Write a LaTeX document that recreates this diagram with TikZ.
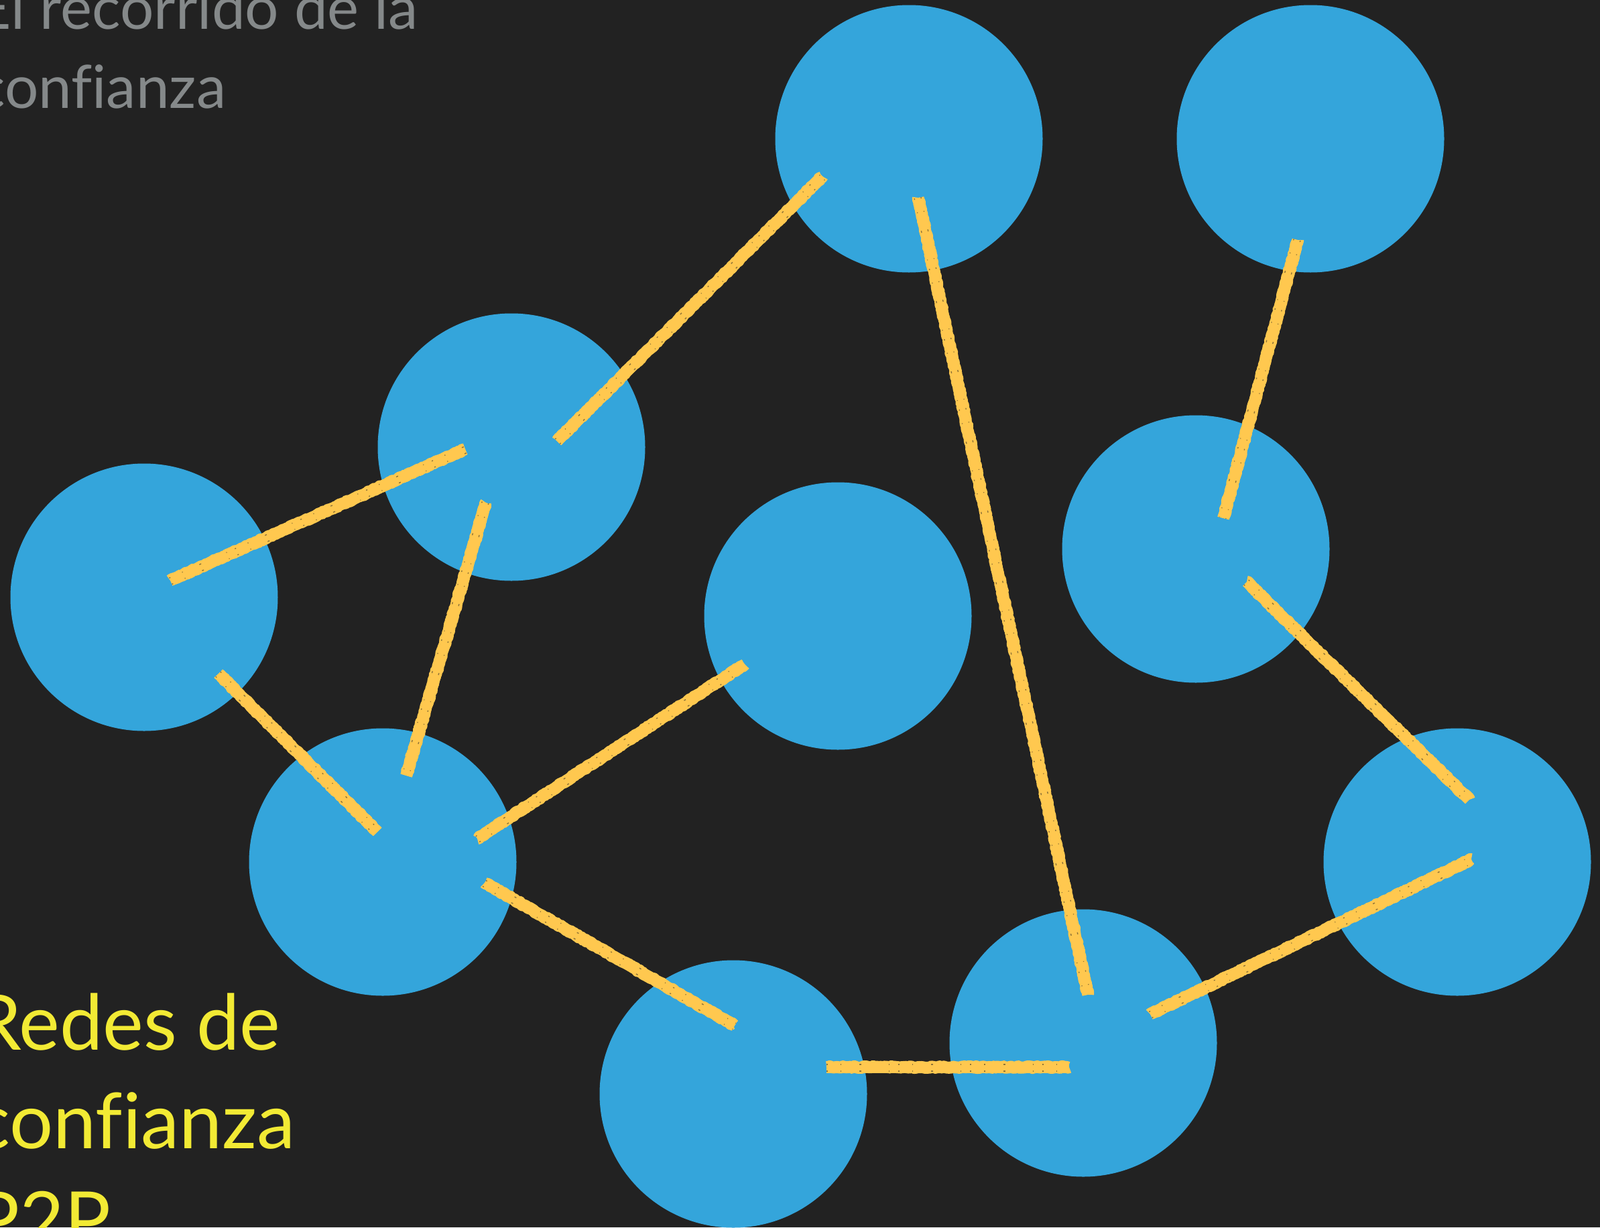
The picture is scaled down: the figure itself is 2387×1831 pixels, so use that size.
\documentclass[tikz,border=0pt]{standalone}
\usepackage{fontspec}
\setmainfont[Ligatures=NoCommon]{Lato}
\usetikzlibrary{calc,decorations.pathmorphing}
\definecolor{bgc}{HTML}{222222}
\definecolor{bluec}{HTML}{34A5DB}
\definecolor{chalkc}{HTML}{FFC84F}
\definecolor{grayc}{HTML}{85898A}
\definecolor{yelc}{HTML}{F2EA34}
\tikzset{
  peer/.style={circle, fill=bluec, draw=none, minimum size=399pt, inner sep=0pt},
  chalkbase/.style={draw=chalkc, line width=17pt, line cap=butt},
  chalkrough/.style={draw=chalkc, line width=18pt, line join=round, decorate,
     decoration={random steps, segment length=2.5pt, amplitude=1.1pt}},
  chalkspeck/.style={draw=bgc, line width=1.4pt, opacity=0.5,
     dash pattern=on 2pt off 19pt on 1.2pt off 27pt on 3pt off 41pt on 1pt off 13pt},
  graytext/.style={text=grayc, inner sep=0pt, anchor=base west, font=\fontsize{89}{118}\selectfont},
  yeltext/.style={text=yelc, inner sep=0pt, anchor=base west, font=\fontsize{115}{147}\selectfont}
}
\newcommand\chalkseg[2]{%
  \draw[chalkbase] (#1) -- (#2);
  \draw[chalkrough] (#1) -- (#2);
  \draw[chalkspeck] ($(#1)!4pt!90:(#2)$) -- ($(#2)!4pt!-90:(#1)$);
  \draw[chalkspeck] ($(#1)!6pt!-90:(#2)$) -- ($(#2)!6pt!90:(#1)$);
}
\begin{document}
\begin{tikzpicture}[x=1pt,y=-1pt]
\fill[bgc] (0,0) rectangle (2387,1831);
\useasboundingbox (0,0) rectangle (2387,1831);
% peers
\node[peer] (n1) at (1356,207) {};
\node[peer] (n2) at (1955,207) {};
\node[peer] (n3) at (763,667) {};
\node[peer] (n4) at (215,891) {};
\node[peer] (n5) at (1250,919) {};
\node[peer] (n6) at (1784,819) {};
\node[peer] (n7) at (571,1286) {};
\node[peer] (n8) at (2174,1286) {};
\node[peer] (n9) at (1094,1632) {};
\node[peer] (n10) at (1616,1556) {};
% connector end points
\coordinate (a1) at (831,658);  \coordinate (a2) at (1227,263);
\coordinate (b1) at (1370,295); \coordinate (b2) at (1623,1484);
\coordinate (c1) at (1936,358); \coordinate (c2) at (1825,773);
\coordinate (d1) at (254,866);  \coordinate (d2) at (694,670);
\coordinate (e1) at (725,750);  \coordinate (e2) at (606,1157);
\coordinate (f1) at (326,1005); \coordinate (f2) at (563,1241);
\coordinate (g1) at (712,1251); \coordinate (g2) at (1111,991);
\coordinate (h1) at (723,1317); \coordinate (h2) at (1096,1530);
\coordinate (i1) at (1233,1592); \coordinate (i2) at (1595,1592);
\coordinate (j1) at (1716,1513); \coordinate (j2) at (2195,1282);
\coordinate (k1) at (1860,868); \coordinate (k2) at (2192,1193);
\chalkseg{a1}{a2}
\chalkseg{b1}{b2}
\chalkseg{c1}{c2}
\chalkseg{d1}{d2}
\chalkseg{e1}{e2}
\chalkseg{f1}{f2}
\chalkseg{g1}{g2}
\chalkseg{h1}{h2}
\chalkseg{i1}{i2}
\chalkseg{j1}{j2}
\chalkseg{k1}{k2}
% texts
\node[graytext] (t1) at (-35,43) {El recorrido de la};
\node[graytext] (t2) at (-35,161) {confianza};
\node[yeltext] (u1) at (-40,1566) {Redes de};
\node[yeltext] (u2) at (-40,1713) {confianza};
\node[yeltext] (u3) at (-40,1860) {P2P};
\end{tikzpicture}
\end{document}
